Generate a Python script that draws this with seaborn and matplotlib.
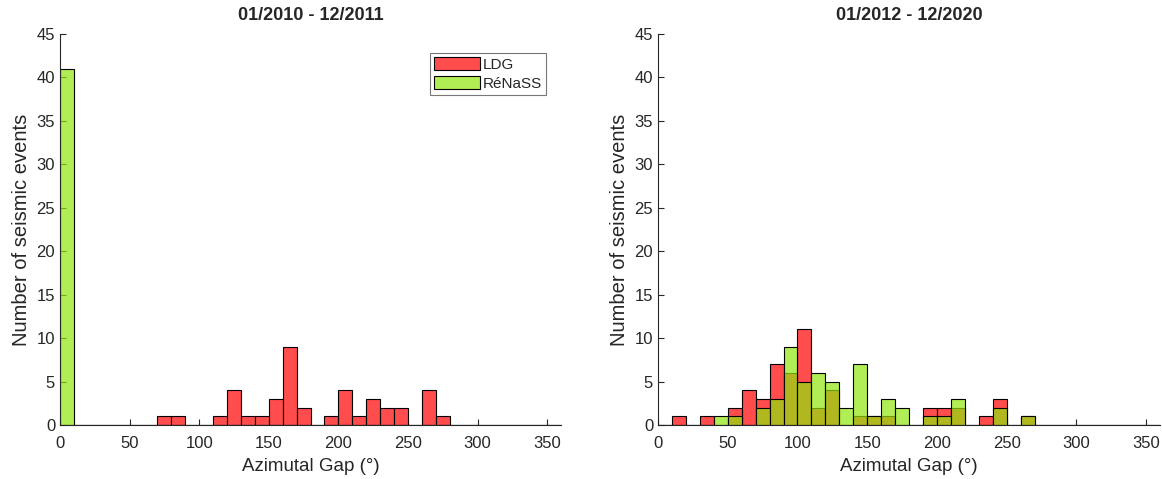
import numpy as np
import pandas as pd
import seaborn as sns
import matplotlib.pyplot as plt

# bin starts (degrees) and counts, 10-degree bins
left_ldg_bins = [70, 80, 110, 120, 130, 140, 150, 160, 170, 190, 200, 210, 220, 230, 240, 260, 270]
left_ldg_counts = [1, 1, 1, 4, 1, 1, 3, 9, 2, 1, 4, 1, 3, 2, 2, 4, 1]
left_ren_bins = [0]
left_ren_counts = [41]

right_ldg_bins = [10, 30, 50, 60, 70, 80, 90, 100, 110, 120, 140, 150, 160, 190, 200, 210, 230, 240, 260]
right_ldg_counts = [1, 1, 2, 4, 3, 7, 6, 11, 2, 4, 1, 1, 1, 2, 2, 2, 1, 3, 1]
right_ren_bins = [40, 50, 70, 80, 90, 100, 110, 120, 130, 140, 150, 160, 170, 190, 200, 210, 240, 260]
right_ren_counts = [1, 1, 2, 3, 9, 5, 6, 5, 2, 7, 1, 3, 2, 1, 1, 3, 2, 1]

titles = ['01/2010 - 12/2011', '01/2012 - 12/2020']

sns.set_style('ticks')
plt.rcParams['font.family'] = ['Liberation Sans', 'DejaVu Sans']

fig = plt.figure(figsize=(11.62, 4.79), dpi=100)
ax1 = fig.add_axes([60 / 1162, 1 - 425 / 479, 501 / 1162, 391 / 479])
ax2 = fig.add_axes([658 / 1162, 1 - 425 / 479, 502 / 1162, 391 / 479])

red = (1.0, 0.0, 0.0)
green = (0.57, 0.9, 0.05)

panels = [(ax1, left_ldg_bins, left_ldg_counts, left_ren_bins, left_ren_counts),
          (ax2, right_ldg_bins, right_ldg_counts, right_ren_bins, right_ren_counts)]

for i, (ax, lb, lc, rb, rc) in enumerate(panels):
    d_ldg = pd.DataFrame({'gap': np.array(lb) + 5, 'n': lc})
    d_ren = pd.DataFrame({'gap': np.array(rb) + 5, 'n': rc})
    sns.histplot(data=d_ldg, x='gap', weights='n', binwidth=10, binrange=(0, 360),
                 color=red, alpha=0.7, edgecolor='black', linewidth=0.8, label='LDG', ax=ax)
    sns.histplot(data=d_ren, x='gap', weights='n', binwidth=10, binrange=(0, 360),
                 color=green, alpha=0.7, edgecolor='black', linewidth=0.8, label='RéNaSS', ax=ax)
    ax.set_xlim(0, 360)
    ax.set_ylim(0, 45)
    ax.set_xticks(np.arange(0, 351, 50))
    ax.set_yticks(np.arange(0, 46, 5))
    ax.tick_params(direction='in', length=4, labelsize=12, colors='#262626')
    ax.tick_params(axis='x', pad=8)
    ax.set_xlabel('Azimutal Gap (°)', fontsize=13.5, color='#262626', labelpad=5)
    ax.set_ylabel('Number of seismic events', fontsize=14.5, color='#262626', labelpad=4)
    ax.set_title(titles[i], fontsize=13, fontweight='bold', pad=10)
    sns.despine(ax=ax)
    for s in ['left', 'bottom']:
        ax.spines[s].set_color('#262626')
        ax.spines[s].set_linewidth(0.8)

leg = ax1.legend(loc='upper right', bbox_to_anchor=(0.970, 0.951), borderaxespad=0,
                 handlelength=3.0, handleheight=0.9, fancybox=False,
                 edgecolor='#777777', framealpha=1, fontsize=11,
                 handletextpad=0.2, labelspacing=0.3, borderpad=0.25)
leg.get_frame().set_linewidth(0.8)

fig.savefig('out.png', dpi=100)
